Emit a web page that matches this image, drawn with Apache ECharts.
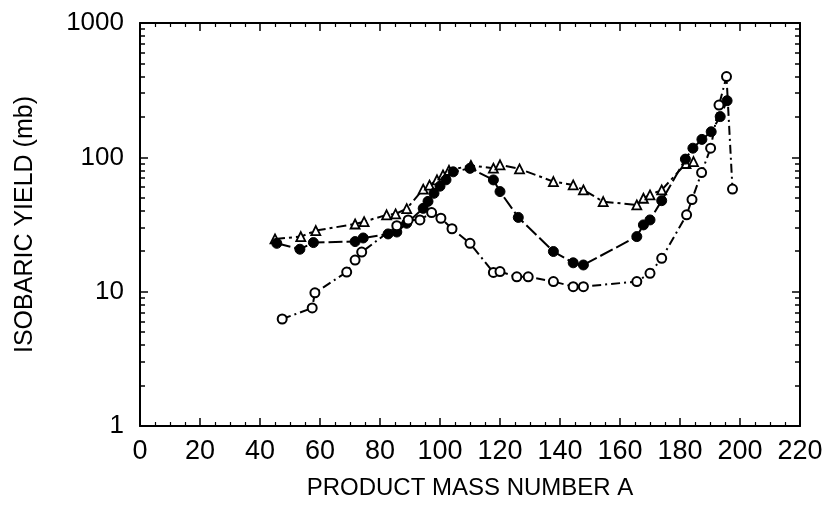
<!DOCTYPE html>
<html>
<head>
<meta charset="utf-8">
<script src="https://cdn.jsdelivr.net/npm/echarts@6/dist/echarts.min.js"></script>
<style>
    html, body { margin: 0; padding: 0; background: #fff; }
    #chart { width: 824px; height: 508px; }
</style>
</head>
<body>
<div id="chart"></div>
<script>
    // x ticks
    var xTicks = [0, 20, 40, 60, 80, 100, 120, 140, 160, 180, 200, 220];
    var yTicks = [1, 10, 100, 1000];

    // open triangles
    var triA = [45, 53.6, 58.6, 71.7, 74.7, 82.2, 85.2, 88.9, 94.4, 96.5, 99, 101, 103, 110.3, 117.8, 120, 126.5, 137.8, 144.4, 147.8, 154.4, 165.6, 167.8, 170, 173.9, 182, 184.5];
    var triY = [24.7, 25.7, 28.5, 31.9, 33.2, 37.3, 37.9, 41.5, 57.9, 62, 68, 74, 80, 87, 83, 88, 82, 66, 62.3, 57.2, 46.8, 44.2, 49.6, 52.5, 57.2, 90, 93];

    // filled circles
    var dotA = [45.6, 53.3, 57.8, 71.7, 74.4, 82.7, 85.6, 88.9, 94.4, 96, 98, 100, 102, 104.4, 110, 117.8, 120, 126.1, 137.8, 144.4, 147.8, 165.6, 167.8, 170, 173.9, 181.8, 184.3, 187.3, 190.4, 193.4, 195.7];
    var dotY = [22.9, 20.7, 23.2, 23.6, 25.1, 26.9, 27.8, 32.3, 41.7, 47, 54, 61, 68, 78, 82.8, 67.9, 55.6, 35.7, 19.9, 16.4, 15.8, 25.7, 31.4, 34.2, 47.6, 97, 117, 136, 155, 201, 264];

    // open circles
    var ringA = [47.4, 57.4, 58.3, 68.9, 71.7, 73.9, 85.6, 89.4, 93.3, 97.2, 100.3, 104, 110, 117.8, 120, 125.6, 129.4, 137.8, 144.4, 147.8, 165.6, 170, 173.9, 182.2, 184, 187.2, 190.2, 193, 195.5, 197.5];
    var ringY = [6.26, 7.56, 9.8, 14, 17.2, 19.7, 31, 34.2, 34.2, 38.8, 35.2, 29.4, 22.9, 13.9, 14.1, 12.9, 12.9, 11.9, 10.9, 10.9, 11.9, 13.7, 17.7, 37.3, 48.5, 77, 117, 245, 399, 58];

    function pairs(xs, ys) {
        var out = [];
        for (var i = 0; i < xs.length; i++) out.push([xs[i], ys[i]]);
        return out;
    }

    var myChart = echarts.init(document.getElementById('chart'));

    var frameLine = { show: true, onZero: false, lineStyle: { color: '#000', width: 2 } };
    var majorTick = { show: true, inside: true, length: 8, lineStyle: { color: '#000', width: 1.5 } };

    myChart.setOption({
        animation: false,
        backgroundColor: '#fff',
        grid: { left: 140, right: 24, top: 23, bottom: 82, outerBoundsMode: 'none' },
        xAxis: [
            {
                type: 'value',
                min: xTicks[0],
                max: xTicks[xTicks.length - 1],
                interval: 20,
                position: 'bottom',
                axisLine: frameLine,
                axisTick: majorTick,
                minorTick: { show: true, splitNumber: 4, length: 4, lineStyle: { color: '#000', width: 1.2 } },
                splitLine: { show: false },
                axisLabel: { margin: 12, color: '#000', fontFamily: 'Liberation Sans', fontSize: 27 },
                name: 'PRODUCT MASS NUMBER A',
                nameLocation: 'middle',
                nameGap: 50,
                nameTextStyle: { color: '#000', fontFamily: 'Liberation Sans', fontSize: 24 }
            },
            {
                type: 'value',
                min: xTicks[0],
                max: xTicks[xTicks.length - 1],
                interval: 20,
                position: 'top',
                axisLine: frameLine,
                axisTick: majorTick,
                minorTick: { show: true, splitNumber: 4, length: 4, lineStyle: { color: '#000', width: 1.2 } },
                splitLine: { show: false },
                axisLabel: { show: false }
            }
        ],
        yAxis: [
            {
                type: 'log',
                logBase: 10,
                min: yTicks[0],
                max: yTicks[yTicks.length - 1],
                position: 'left',
                axisLine: frameLine,
                axisTick: majorTick,
                minorTick: { show: true, splitNumber: 9, length: 5, lineStyle: { color: '#000', width: 1.5 } },
                splitLine: { show: false },
                axisLabel: {
                    margin: 16,
                    color: '#000',
                    fontFamily: 'Liberation Sans',
                    fontSize: 26,
                    formatter: function (v) { return String(Math.round(v)); }
                },
                name: 'ISOBARIC YIELD (mb)',
                nameLocation: 'middle',
                nameGap: 102,
                nameTextStyle: { color: '#000', fontFamily: 'Liberation Sans', fontSize: 25 }
            },
            {
                type: 'log',
                logBase: 10,
                min: yTicks[0],
                max: yTicks[yTicks.length - 1],
                position: 'right',
                axisLine: frameLine,
                axisTick: majorTick,
                minorTick: { show: true, splitNumber: 9, length: 5, lineStyle: { color: '#000', width: 1.5 } },
                splitLine: { show: false },
                axisLabel: { show: false }
            }
        ],
        series: [
            {
                name: 'triangles',
                type: 'line',
                data: pairs(triA, triY),
                symbol: 'triangle',
                symbolSize: 9,
                itemStyle: { color: '#fff', borderColor: '#000', borderWidth: 1.8 },
                lineStyle: { color: '#000', width: 2, type: [10, 4, 3, 4] },
                z: 3
            },
            {
                name: 'filled',
                type: 'line',
                data: pairs(dotA, dotY),
                symbol: 'circle',
                symbolSize: 10,
                itemStyle: { color: '#000', borderColor: '#000', borderWidth: 1 },
                lineStyle: { color: '#000', width: 2, type: [14, 4] },
                z: 4
            },
            {
                name: 'open',
                type: 'line',
                data: pairs(ringA, ringY),
                symbol: 'circle',
                symbolSize: 9,
                itemStyle: { color: '#fff', borderColor: '#000', borderWidth: 2 },
                lineStyle: { color: '#000', width: 2, type: [9, 4, 2, 4] },
                z: 5
            }
        ]
    });
</script>
</body>
</html>
